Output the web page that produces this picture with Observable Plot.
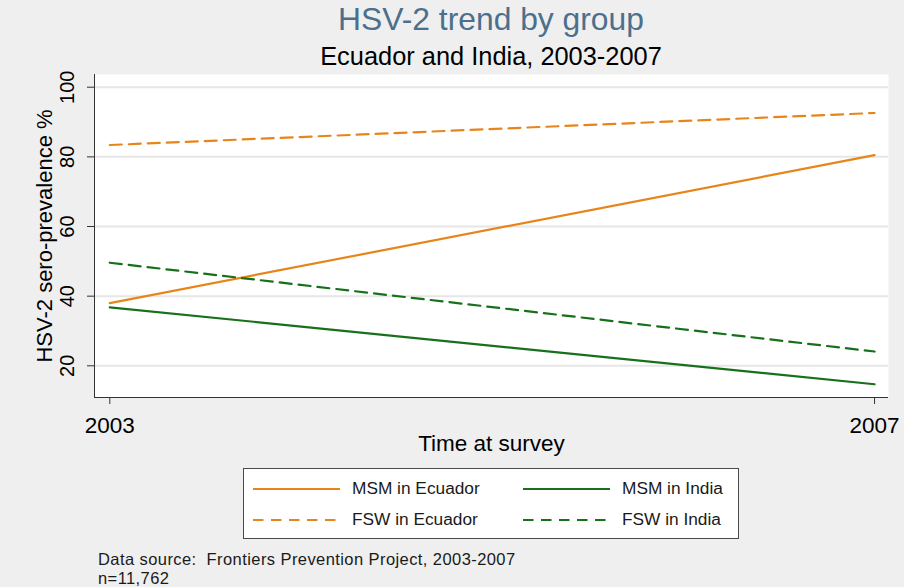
<!DOCTYPE html>
<html>
<head>
<meta charset="utf-8">
<script src="https://cdn.jsdelivr.net/npm/d3@7"></script>
<script src="https://cdn.jsdelivr.net/npm/@observablehq/plot@0.6"></script>
<style>
  html, body { margin: 0; padding: 0; background: #efefef; }
  body { width: 904px; height: 587px; position: relative; overflow: hidden;
         font-family: "Liberation Sans", Arial, sans-serif; color: #000; }
  .abs { position: absolute; white-space: nowrap; line-height: 1; }
  #chart { position: absolute; left: 0; top: 60px; }
  #legend { position: absolute; left: 243px; top: 468px; width: 494px; height: 69px;
            background: #fff; border: 1px solid #4a4a4a; }
</style>
</head>
<body>
<div class="abs" id="title" style="left:91px;width:800px;text-align:center;top:4px;font-size:31.8px;color:#4b6f8c;"></div>
<div class="abs" id="subtitle" style="left:91px;width:800px;text-align:center;top:43.5px;font-size:25.4px;"></div>
<div id="chart"></div>
<div id="legend"></div>
<div class="abs" id="cap1" style="left:98px;top:550.5px;font-size:16.5px;letter-spacing:0.42px;color:#1a1a1a;"></div>
<div class="abs" id="cap2" style="left:98px;top:569.5px;font-size:16.5px;letter-spacing:0.42px;color:#1a1a1a;"></div>
<script>
// ---- data ----
const years = [2003, 2007];
const yearLabels = ["2003", "2007"];
const yTicks = [20, 40, 60, 80, 100];
const seriesNames = ["MSM in Ecuador", "MSM in India", "FSW in Ecuador", "FSW in India"];
const msmEcuador = [38.0, 80.5];
const msmIndia = [36.8, 14.7];
const fswEcuador = [83.4, 92.6];
const fswIndia = [49.6, 24.1];
const seriesColors = ["#e8851a", "#17701a", "#e8851a", "#17701a"];
const seriesDashed = [false, false, true, true];

const titleText = "HSV-2 trend by group";
const subtitleText = "Ecuador and India, 2003-2007";
const xLabel = "Time at survey";
const yLabel = "HSV-2 sero-prevalence %";
const caption1 = "Data source:\u00a0\u00a0Frontiers Prevention Project, 2003-2007";
const caption2 = "n=11,762";

document.getElementById("title").textContent = titleText;
document.getElementById("subtitle").textContent = subtitleText;
document.getElementById("cap1").textContent = caption1;
document.getElementById("cap2").textContent = caption2;

const seriesValues = [msmEcuador, msmIndia, fswEcuador, fswIndia];
const rows = [];
seriesNames.forEach((name, i) => {
  years.forEach((yr, j) => rows.push({series: name, year: yr, value: seriesValues[i][j]}));
});

const xDomain = [2002.92, 2007.073];
const yDomain = [10.9, 103.65];
const dash = "12,7";

const lineMarks = seriesNames.map((name, i) =>
  Plot.line(rows.filter(d => d.series === name), {
    x: "year", y: "value",
    stroke: seriesColors[i], strokeWidth: 2.2,
    strokeDasharray: seriesDashed[i] ? dash : null
  })
);

const chart = Plot.plot({
  width: 904,
  height: 400,
  marginLeft: 94,
  marginRight: 16,
  marginTop: 14,
  marginBottom: 63,
  style: {background: "transparent", fontFamily: "'Liberation Sans', Arial, sans-serif", color: "#000"},
  x: {domain: xDomain, axis: null},
  y: {domain: yDomain, axis: null},
  marks: [
    Plot.frame({fill: "white"}),
    Plot.gridY(yTicks, {stroke: "#e6e6e6", strokeOpacity: 1, strokeWidth: 2}),
    Plot.axisY({ticks: yTicks, tickSize: 7, tickFormat: () => "", label: null, stroke: "#333"}),
    Plot.axisX({ticks: years, tickSize: 7, tickFormat: () => "", label: null, stroke: "#333"}),
    Plot.ruleX([xDomain[0]], {stroke: "#333", strokeWidth: 1}),
    Plot.ruleY([yDomain[0]], {stroke: "#333", strokeWidth: 1}),
    Plot.text(yTicks, {x: () => xDomain[0], y: d => d, text: d => String(d), rotate: -90,
      dx: -27, textAnchor: "middle", lineAnchor: "middle", fontSize: 20, fill: "#000"}),
    Plot.text(years, {x: d => d, y: () => yDomain[0], text: (d, i) => yearLabels[i],
      dy: 35, textAnchor: "middle", lineAnchor: "bottom", fontSize: 22.5, fill: "#000"}),
    Plot.text([xLabel], {frameAnchor: "bottom", text: d => d, dy: 53, lineAnchor: "bottom",
      textAnchor: "middle", fontSize: 22.5, fill: "#000"}),
    Plot.text([yLabel], {frameAnchor: "left", text: d => d, dx: -50, rotate: -90,
      lineAnchor: "middle", textAnchor: "middle", fontSize: 22, fill: "#000"}),
    ...lineMarks
  ]
});
document.getElementById("chart").appendChild(chart);

// ---- legend ----
const legend = document.getElementById("legend");
const legendPos = [
  {lx: 9, ly: 20, tx: 108},   // MSM in Ecuador
  {lx: 279, ly: 20, tx: 378}, // MSM in India
  {lx: 9, ly: 51, tx: 108},   // FSW in Ecuador
  {lx: 279, ly: 51, tx: 378}  // FSW in India
];
seriesNames.forEach((name, i) => {
  const p = legendPos[i];
  const svgNS = "http://www.w3.org/2000/svg";
  const s = document.createElementNS(svgNS, "svg");
  s.setAttribute("width", 88); s.setAttribute("height", 6);
  s.style.position = "absolute"; s.style.left = p.lx + "px"; s.style.top = (p.ly - 3) + "px";
  const ln = document.createElementNS(svgNS, "line");
  ln.setAttribute("x1", 0); ln.setAttribute("x2", 87); ln.setAttribute("y1", 3); ln.setAttribute("y2", 3);
  ln.setAttribute("stroke", seriesColors[i]); ln.setAttribute("stroke-width", 2);
  if (seriesDashed[i]) ln.setAttribute("stroke-dasharray", "10.5,7.5");
  s.appendChild(ln);
  legend.appendChild(s);
  const t = document.createElement("div");
  t.className = "abs";
  t.textContent = name;
  t.style.left = p.tx + "px";
  t.style.top = (p.ly + 6 - 14.7) + "px";
  t.style.fontSize = "17.3px";
  t.style.color = "#1a1a1a";
  legend.appendChild(t);
});
</script>
</body>
</html>
